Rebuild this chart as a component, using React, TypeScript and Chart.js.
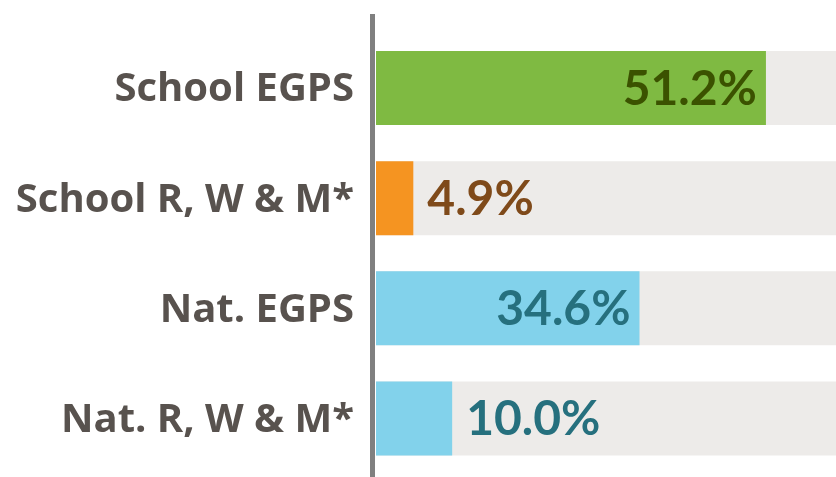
import React, { useEffect, useRef } from "react";
import { Chart, registerables } from "chart.js";

Chart.register(...registerables);

const categories = ["School EGPS", "School R, W & M*", "Nat. EGPS", "Nat. R, W & M*"];
const values = [51.2, 4.9, 34.6, 10.0];
const valueLabels = ["51.2%", "4.9%", "34.6%", "10.0%"];
const backgroundValues = [100, 100, 100, 100];
const barColors = ["#7fba42", "#f59421", "#82d2eb", "#82d2eb"];
const labelColors = ["#3b5200", "#7f4a1a", "#26707e", "#26707e"];
const X_MAX = 60.4;

const valueLabelPlugin = {
  id: "valueLabels",
  afterDatasetsDraw(chart: any) {
    const ctx = chart.ctx;
    const meta = chart.getDatasetMeta(0);
    ctx.save();
    ctx.font = "bold 48px Lato";
    ctx.textBaseline = "middle";
    meta.data.forEach((bar: any, i: number) => {
      const v = values[i];
      ctx.fillStyle = labelColors[i];
      if (v > 30) {
        ctx.textAlign = "right";
        ctx.fillText(valueLabels[i], bar.x - 9, bar.y + 1);
      } else {
        ctx.textAlign = "left";
        ctx.fillText(valueLabels[i], bar.x + 14, bar.y + 1);
      }
    });
    ctx.restore();
  },
};

const axisLinePlugin = {
  id: "axisLine",
  afterDraw(chart: any) {
    const ctx = chart.ctx;
    const left = chart.chartArea.left;
    ctx.save();
    ctx.fillStyle = "#808080";
    ctx.fillRect(left - 6, 14, 5, chart.height - 14);
    ctx.restore();
  },
};

export default function App() {
  const ref = useRef<HTMLCanvasElement>(null);
  useEffect(() => {
    if (!ref.current) return;
    const chart = new Chart(ref.current, {
      type: "bar",
      data: {
        labels: categories,
        datasets: [
          {
            data: values,
            backgroundColor: barColors,
            grouped: false,
            categoryPercentage: 1,
            barPercentage: 0.673,
            borderWidth: 0,
          } as any,
          {
            data: backgroundValues,
            backgroundColor: "#edebe9",
            grouped: false,
            categoryPercentage: 1,
            barPercentage: 0.673,
            borderWidth: 0,
          } as any,
        ],
      },
      options: {
        indexAxis: "y",
        responsive: false,
        animation: false,
        layout: { padding: { top: 33, bottom: 3.5, left: 0, right: 0 } },
        plugins: { legend: { display: false }, tooltip: { enabled: false } },
        scales: {
          x: { display: false, min: 0, max: X_MAX },
          y: {
            grid: { display: false, drawTicks: false },
            border: { display: false },
            afterFit(scale: any) {
              scale.width = 376;
              scale.paddingTop = 0;
              scale.paddingBottom = 0;
            },
            ticks: {
              color: "#58524e",
              padding: 22,
              labelOffset: 2,
              font: { family: "'Open Sans'", size: 40, weight: "bold", lineHeight: 1 },
            },
          },
        },
      },
      plugins: [valueLabelPlugin, axisLinePlugin],
    });
    return () => chart.destroy();
  }, []);
  return (
    <div style={{ position: "fixed", left: 0, top: 0, width: 836, height: 477, background: "#fff" }}>
      <canvas ref={ref} width={836} height={477} style={{ display: "block" }} />
    </div>
  );
}
